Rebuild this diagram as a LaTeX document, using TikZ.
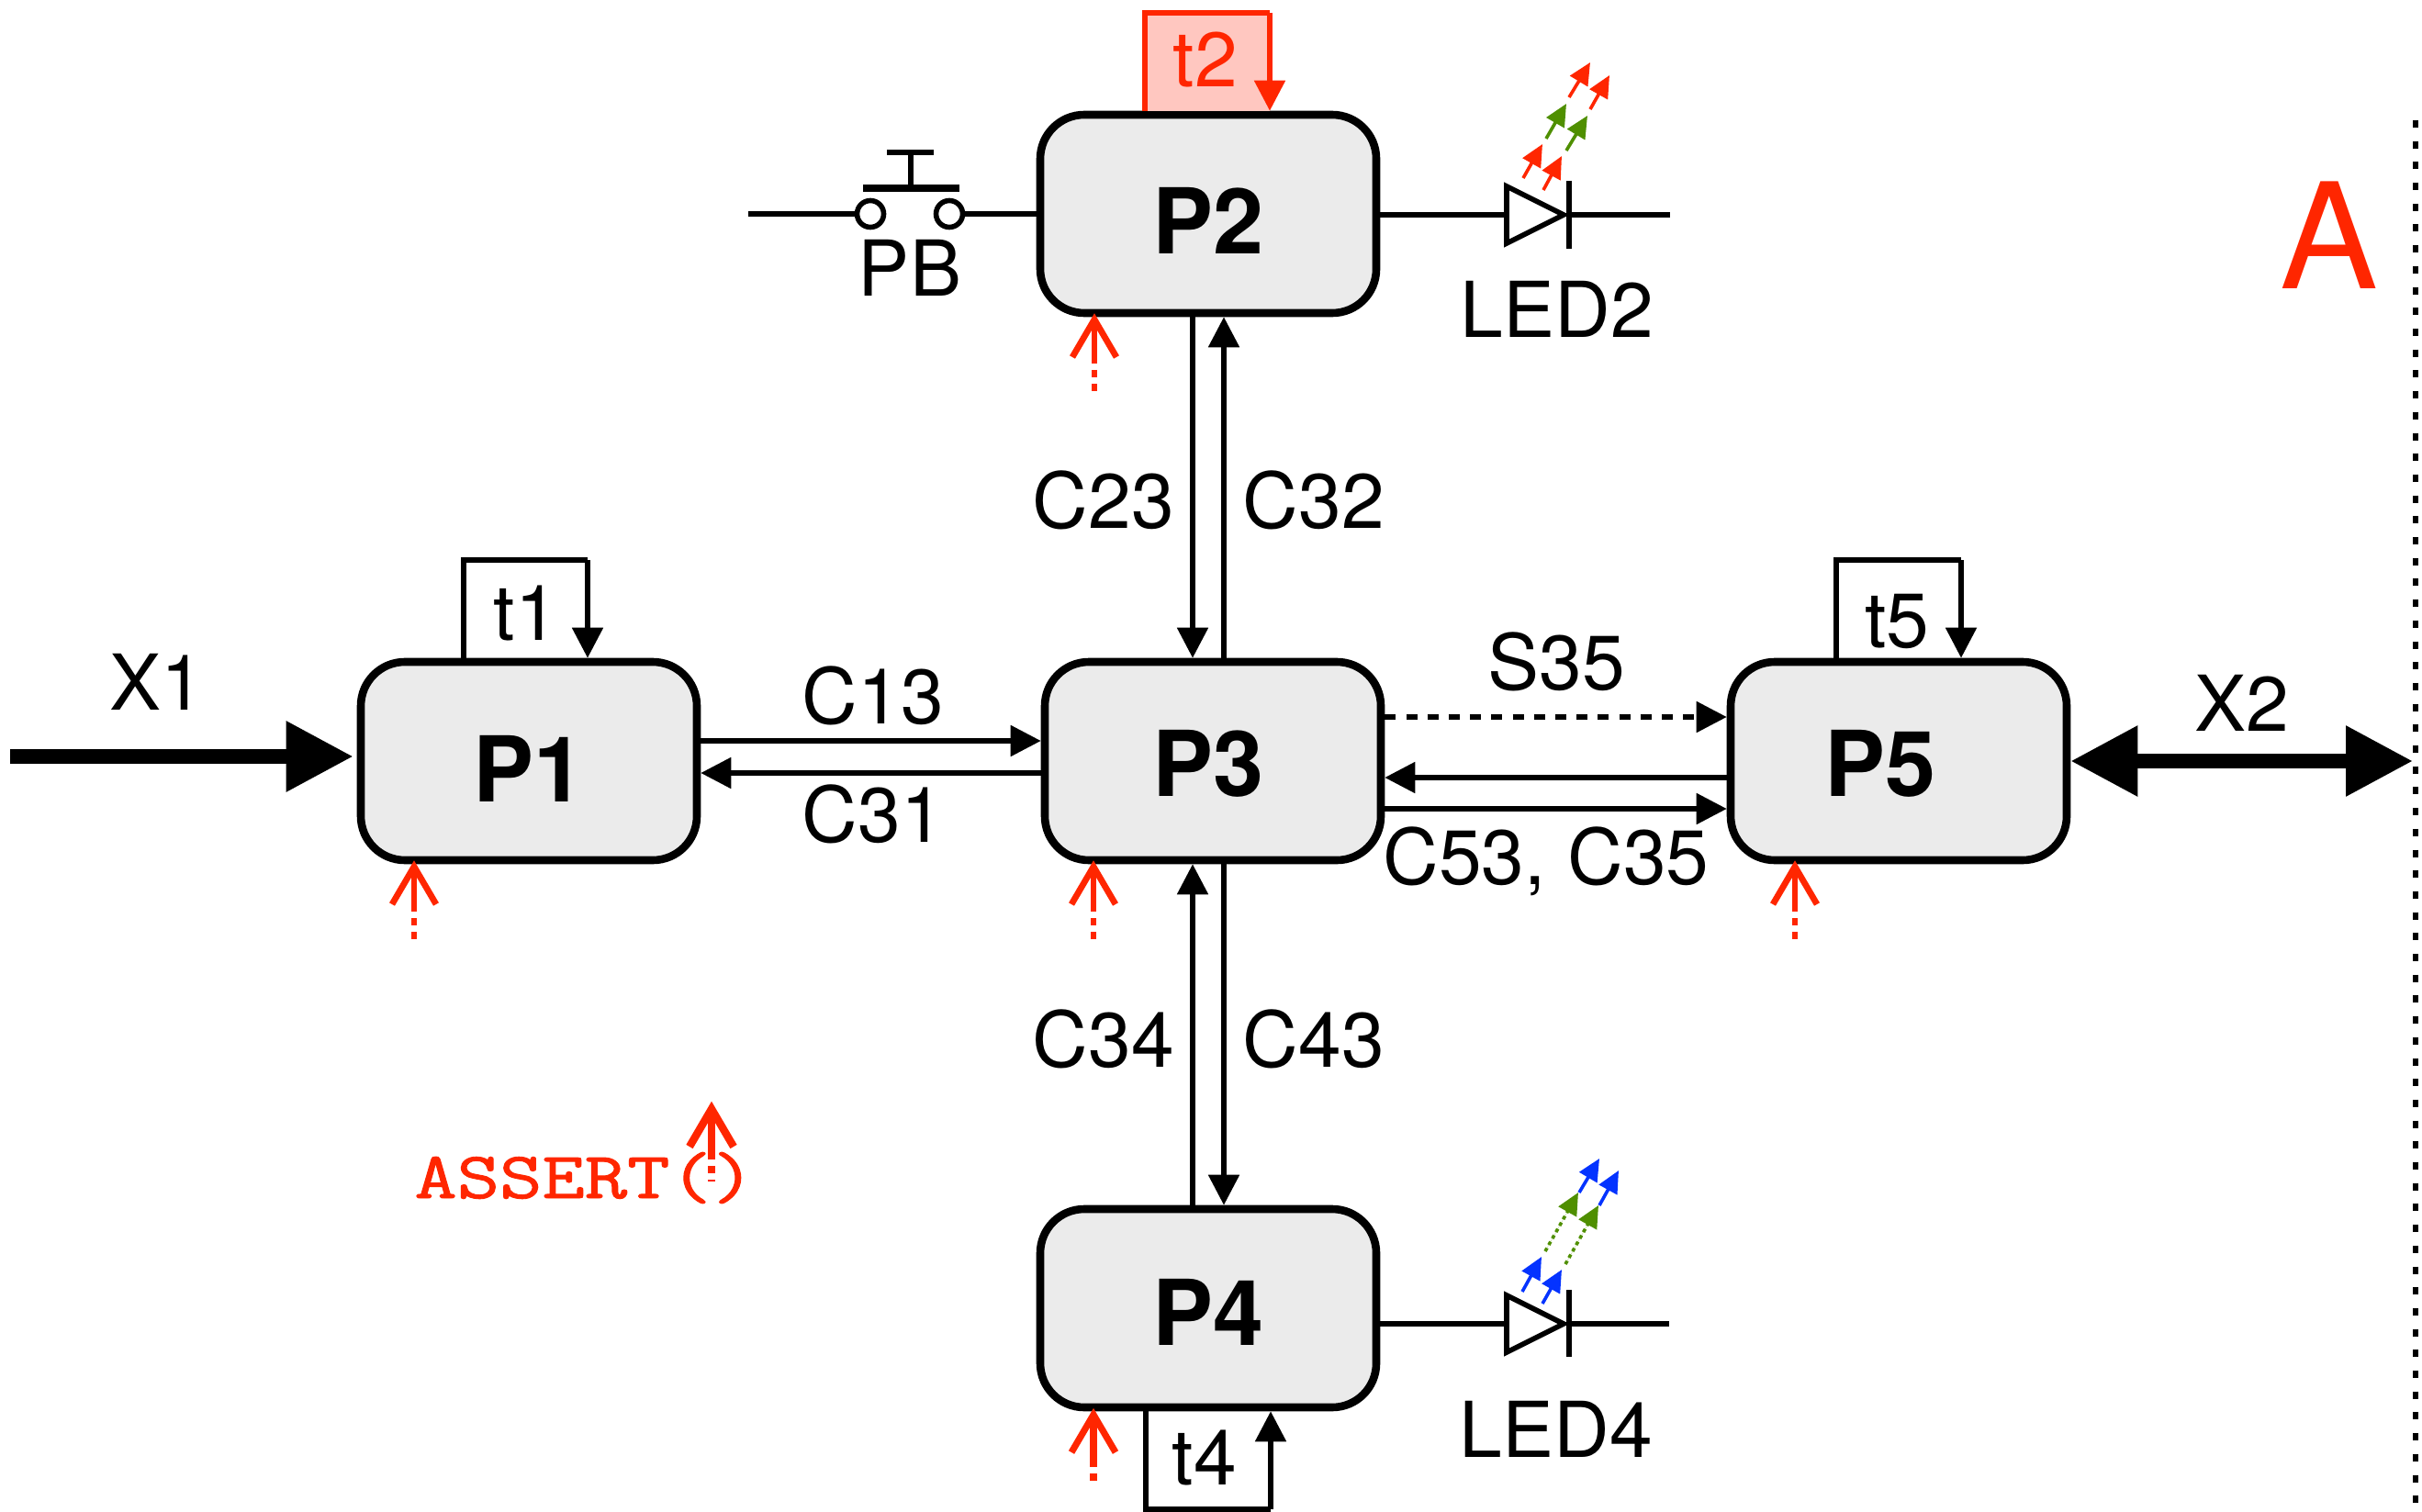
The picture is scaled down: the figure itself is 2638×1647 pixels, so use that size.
\documentclass[tikz,border=0pt]{standalone}
\usepackage{fontspec}
\usepackage{graphicx}
\setmainfont{TeX Gyre Heros}
\newfontfamily\assertfont[FakeBold=1.2]{Latin Modern Mono}
\usetikzlibrary{arrows.meta,calc}
\definecolor{ared}{HTML}{FF2600}
\definecolor{agreen}{HTML}{4F8F00}
\definecolor{ablue}{HTML}{0433FF}
\definecolor{boxgrey}{HTML}{EBEBEB}
\definecolor{tpink}{HTML}{FFC7C0}
\tikzset{
  procbox/.style={draw=black,fill=boxgrey,line width=4.3pt,rounded corners=24pt,
    minimum width=183pt,minimum height=108pt,inner sep=0pt,
    font=\fontsize{49.5}{50}\selectfont\bfseries,text height=#1,text depth=0pt},
  lbl/.style={anchor=base,inner sep=0pt,font=\fontsize{42}{42}\selectfont},
  conn/.style={line width=2.6pt,-{Triangle[length=16.5pt,width=16.5pt]}},
  plainwire/.style={line width=2.8pt},
  loopline/.style={line width=2.6pt,line join=miter},
  heavy/.style={line width=7.8pt,-{Triangle[length=36.5pt,width=36.5pt]}},
  heavyboth/.style={line width=7.8pt,{Triangle[length=36.5pt,width=36.5pt]}-{Triangle[length=36.5pt,width=36.5pt]}},
  ledline/.style={line width=2.8pt,line join=miter},
  ray/.style={line width=1.8pt,-{Triangle[length=12pt,width=11pt]}},
  assertline/.style={draw=ared,line width=3pt,line join=miter},
}
\newcommand{\assertarr}[5]{%
  \draw[assertline,line width=#5] (#1-24,#2+42) -- (#1,#2+1) -- (#1+24,#2+42);
  \draw[assertline,line width=#5] (#1,#2+2) -- (#1,#3);
  \draw[assertline,line width=#5,dash pattern=on 4pt off 3.5pt] (#1,#3) -- (#1,#4);
}
\begin{document}
\begin{tikzpicture}[x=0.5pt,y=-0.5pt]
\useasboundingbox (0,0) rectangle (2638,1647);

% process boxes
\node[procbox=44pt] (P1) at (576,829) {P1};
\node[procbox=44pt] (P2) at (1316,233) {P2};
\node[procbox=38pt] (P3) at (1321,829) {P3\hspace*{5pt}};
\node[procbox=40pt] (P4) at (1316,1425) {P4};
\node[procbox=38pt] (P5) at (2068,829) {P5\hspace*{20pt}};

% helper positions
\coordinate (vL) at (1299,0);
\coordinate (vR) at (1333,0);
\coordinate (rowA) at (0,807);
\coordinate (rowB) at (0,842);
\coordinate (rowS) at (0,781);
\coordinate (rowC) at (0,847);
\coordinate (rowD) at (0,881);

% vertical channels
\draw[conn] (vL |- P2.south) -- (vL |- P3.north);
\draw[conn] (vR |- P3.north) -- (vR |- P2.south);
\draw[conn] (vL |- P4.north) -- (vL |- P3.south);
\draw[conn] (vR |- P3.south) -- (vR |- P4.north);

% horizontal channels
\draw[conn] (P1.east |- rowA) -- (P3.west |- rowA);
\draw[conn] (P3.west |- rowB) -- (P1.east |- rowB);
\draw[conn,dash pattern=on 6pt off 5.6pt] (P3.east |- rowS) -- (P5.west |- rowS);
\draw[conn] (P5.west |- rowC) -- (P3.east |- rowC);
\draw[conn] (P3.east |- rowD) -- (P5.west |- rowD);

% external channels
\coordinate (x1s) at (11,824);
\coordinate (x2e) at (2628,829);
\draw[heavy,shorten >=2pt] (x1s) -- (x1s -| P1.west);
\draw[heavyboth] (P5.east) -- (x2e);

% boundary
\coordinate (bt) at (2631,131);
\coordinate (bb) at (2631,1647);
\draw[line width=3.2pt,dash pattern=on 4pt off 7.35pt] (bt) -- (bb);

% timers
\coordinate (t1l) at (505,610);
\coordinate (t1r) at (640,610);
\draw[loopline] (t1l |- P1.north) -- (t1l) -- (t1r);
\draw[conn,line join=miter] (t1r) -- (t1r |- P1.north);
\node[lbl] (t1) at (573,697) {t1};

\coordinate (t5l) at (2000,610);
\coordinate (t5r) at (2136,610);
\draw[loopline] (t5l |- P5.north) -- (t5l) -- (t5r);
\draw[conn] (t5r) -- (t5r |- P5.north);
\node[lbl] (t5) at (2066,705) {t5};

\coordinate (t2l) at (1247,14);
\coordinate (t2r) at (1383,14);
\fill[tpink] (t2l |- P2.north) -- (t2l) -- (t2r) -- (t2r |- P2.north) -- cycle;
\draw[loopline,draw=ared] (t2l |- P2.north) -- (t2l) -- (t2r);
\draw[conn,draw=ared,fill=ared] (t2r) -- (t2r |- P2.north);
\node[lbl,text=ared] (t2) at (1313,95) {t2};

\coordinate (t4l) at (1248,1644);
\coordinate (t4r) at (1384,1644);
\draw[loopline] (t4l |- P4.south) -- (t4l) -- (t4r);
\draw[conn] (t4r) -- (t4r |- P4.south);
\node[lbl] (t4) at (1312,1617) {t4};

% channel labels
\node[lbl] (X1) at (171,773) {X1};
\node[lbl] (X2) at (2442,796) {X2};
\node[lbl] (C13) at (951,788) {C13};
\node[lbl] (C31) at (951,917) {C31};
\node[lbl] (S35) at (1695,751) {S35};
\node[lbl] (C53) at (1684,963) {C53, C35};
\node[lbl] (C23) at (1202,575) {C23};
\node[lbl] (C32) at (1431,575) {C32};
\node[lbl] (C34) at (1202,1162) {C34};
\node[lbl] (C43) at (1431,1162) {C43};
\node[lbl] (PB) at (991,323) {PB};
\node[lbl] (LED2) at (1696,368) {LED2};
\node[lbl] (LED4) at (1695,1587) {LED4};
\node[lbl,text=ared,font=\fontsize{80}{80}\selectfont] (A) at (2537,315) {A};

% push button
\coordinate (pbl) at (815,233);
\coordinate (pba) at (948,233);
\coordinate (pbb) at (1034,233);
\draw[plainwire] (pbl) -- (933,233);
\draw[plainwire] (pba) circle[radius=14.5];
\draw[plainwire] (pbb) circle[radius=14.5];
\draw[plainwire] (1050,233) -- (P2.west);
\draw[line width=4pt] (940,205) -- (1045,205);
\draw[plainwire] (992,205) -- (992,166);
\draw[line width=3pt] (966,166) -- (1017,166);

% LED 2
\coordinate (la2) at (1641,234);
\coordinate (lk2) at (1709,234);
\draw[plainwire] (P2.east |- la2) -- (la2);
\draw[ledline] (1641,203) -- (1641,265) -- (1703,234) -- cycle;
\draw[plainwire] (1709,197) -- (1709,271);
\draw[plainwire] (lk2) -- (1819,234);
\draw[ray,draw=ared,fill=ared] (1659,194) -- (1680,157);
\draw[ray,draw=ared,fill=ared] (1681,207) -- (1701,170);
\draw[ray,draw=agreen,fill=agreen] (1684,151) -- (1706,113);
\draw[ray,draw=agreen,fill=agreen] (1706,164) -- (1729,126);
\draw[ray,draw=ared,fill=ared] (1709,106) -- (1732,68);
\draw[ray,draw=ared,fill=ared] (1732,119) -- (1753,82);

% LED 4
\coordinate (la4) at (1641,1442);
\coordinate (lk4) at (1709,1442);
\draw[plainwire] (P4.east |- la4) -- (la4);
\draw[ledline] (1641,1411) -- (1641,1473) -- (1703,1442) -- cycle;
\draw[plainwire] (1709,1405) -- (1709,1478);
\draw[plainwire] (lk4) -- (1818,1442);
\draw[ray,draw=ablue,fill=ablue] (1658,1407) -- (1679,1369);
\draw[ray,draw=ablue,fill=ablue] (1680,1420) -- (1701,1383);
\draw[ray,draw=agreen,fill=agreen,dash pattern=on 2pt off 2pt] (1683,1363) -- (1719,1299);
\draw[ray,draw=agreen,fill=agreen,dash pattern=on 2pt off 2pt] (1705,1377) -- (1741,1313);
\draw[ray,draw=ablue,fill=ablue] (1720,1299) -- (1742,1262);
\draw[ray,draw=ablue,fill=ablue] (1742,1313) -- (1763,1275);

% assert arrows
\assertarr{451}{943}{985}{1023}{3.4pt}
\assertarr{1191}{943}{985}{1023}{3.4pt}
\assertarr{1955}{943}{985}{1023}{3.4pt}
\assertarr{1192}{347}{388}{427}{3.4pt}
\assertarr{1191}{1540}{1590}{1619}{3.6pt}

% legend
\node[anchor=base west,inner sep=0pt,text=ared] (assert) at (451,1305)
  {\scalebox{1.25}[1]{\assertfont\fontsize{36}{36}\selectfont ASSERT()}};
\assertarr{775}{1207}{1255}{1287}{4.2pt}
\end{tikzpicture}
\end{document}
